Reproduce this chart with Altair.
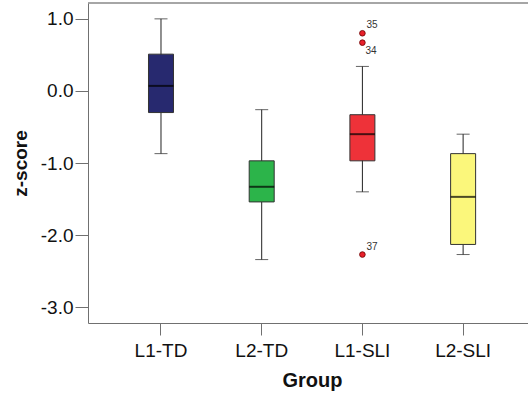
import altair as alt
import pandas as pd

groups = ["L1-TD", "L2-TD", "L1-SLI", "L2-SLI"]
whisker_low = [-0.87, -2.34, -1.40, -2.27]
q1 = [-0.30, -1.54, -0.97, -2.13]
median = [0.07, -1.33, -0.60, -1.47]
q3 = [0.51, -0.97, -0.33, -0.87]
whisker_high = [1.00, -0.26, 0.34, -0.60]
colors = ["#27296F", "#2CB44A", "#EE3239", "#FBF77B"]

outlier_group = ["L1-SLI", "L1-SLI", "L1-SLI"]
outlier_value = [0.80, 0.67, -2.27]
outlier_label = ["35", "34", "37"]
label_above = [True, False, True]

box_df = pd.DataFrame({"group": groups, "lo": whisker_low, "q1": q1,
                       "med": median, "q3": q3, "hi": whisker_high})
out_df = pd.DataFrame({"group": outlier_group, "v": outlier_value,
                       "lab": outlier_label, "above": label_above})

W, H = 440, 320
FONT = "Liberation Sans"

xscale = alt.Scale(domain=groups, paddingInner=0, paddingOuter=0.1846, align=0.609)
yscale = alt.Scale(domain=[-3.22, 1.22], nice=False, zero=False)
cscale = alt.Scale(domain=groups, range=colors)

x_axis = alt.Axis(title="Group", labelAngle=0, tickSize=12, labelPadding=6,
                  labelFontSize=19, labelFont=FONT, labelColor="#111",
                  titleFontSize=20, titleFont=FONT, titleFontWeight="bold",
                  titleColor="#111", titleX=224, titleY=63,
                  titleBaseline="alphabetic", titleAlign="center",
                  domainColor="#707070", tickColor="#707070", grid=False,
                  zindex=0)
y_axis = alt.Axis(title="z-score", values=[-3, -2, -1, 0, 1],
                  labelExpr="replace(format(datum.value, '.1f'), '\u2212', '-')",
                  tickSize=13, labelPadding=2, labelFontSize=19, labelFont=FONT,
                  labelColor="#111", titleFontSize=19, titleFont=FONT,
                  titleFontWeight="bold", titleColor="#111", titleAngle=-90,
                  titleX=-68, titleY=160, titleAlign="center",
                  titleBaseline="middle", domainColor="#707070",
                  tickColor="#707070", grid=False, zindex=0)

base = alt.Chart(box_df)
xenc = alt.X("group:N", scale=xscale, axis=x_axis, sort=groups)

whisk = base.mark_rule(color="#222", strokeWidth=1).encode(
    x=xenc, y=alt.Y("lo:Q", scale=yscale, axis=y_axis), y2="hi:Q")
cap_lo = base.mark_tick(color="#222", size=13, thickness=1).encode(
    x=alt.X("group:N", scale=xscale, sort=groups), y=alt.Y("lo:Q", scale=yscale))
cap_hi = base.mark_tick(color="#222", size=13, thickness=1).encode(
    x=alt.X("group:N", scale=xscale, sort=groups), y=alt.Y("hi:Q", scale=yscale))
box = base.mark_bar(size=25, stroke="#333", strokeWidth=1).encode(
    x=alt.X("group:N", scale=xscale, sort=groups),
    y=alt.Y("q1:Q", scale=yscale), y2="q3:Q",
    color=alt.Color("group:N", scale=cscale, legend=None))
med = base.mark_tick(color="#000", size=25, thickness=2).encode(
    x=alt.X("group:N", scale=xscale, sort=groups), y=alt.Y("med:Q", scale=yscale))

ob = alt.Chart(out_df)
pts = ob.mark_point(filled=True, size=32, color="#E8202A", stroke="#6a0000",
                    strokeWidth=0.8, opacity=1).encode(
    x=alt.X("group:N", scale=xscale, sort=groups), y=alt.Y("v:Q", scale=yscale))
txt_up = ob.transform_filter("datum.above").mark_text(
    align="left", baseline="middle", dx=4, dy=-8, fontSize=10, font=FONT,
    color="#333").encode(
    x=alt.X("group:N", scale=xscale, sort=groups), y=alt.Y("v:Q", scale=yscale),
    text="lab:N")
txt_dn = ob.transform_filter("!datum.above").mark_text(
    align="left", baseline="middle", dx=3, dy=8, fontSize=10, font=FONT,
    color="#333").encode(
    x=alt.X("group:N", scale=xscale, sort=groups), y=alt.Y("v:Q", scale=yscale),
    text="lab:N")

one = pd.DataFrame({"k": [0]})
mask = alt.Chart(one).mark_rule(color="white", strokeWidth=4).encode(
    x=alt.value(W), y=alt.value(1), y2=alt.value(H - 1))
top = alt.Chart(one).mark_rule(color="#888", strokeWidth=1.5).encode(
    y=alt.value(0))

chart = alt.layer(whisk, cap_lo, cap_hi, box, med, pts, txt_up, txt_dn,
                  mask, top).properties(
    width=W, height=H,
    autosize=alt.AutoSizeParams(type="none"),
    padding={"left": 88, "top": 3, "right": 0, "bottom": 71},
    background="white",
    view=alt.ViewBackground(stroke="transparent", strokeWidth=0),
).configure_view(stroke="transparent", strokeWidth=0)

chart.save("out.html", embed_options={"renderer": "svg", "actions": False})
